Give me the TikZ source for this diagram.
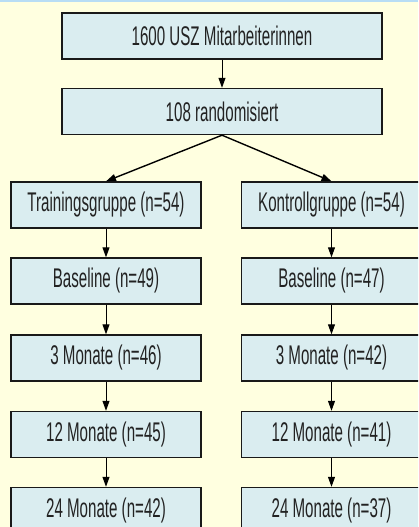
\documentclass[tikz,border=0pt]{standalone}
\usepackage{fontspec}
\newfontfamily\nar[FakeStretch=0.56]{Liberation Sans}
\usetikzlibrary{arrows.meta}
\definecolor{bgy}{HTML}{FFFFE0}
\definecolor{topb}{HTML}{B8DDF5}
\definecolor{boxf}{HTML}{DAEDF0}
\definecolor{txt}{HTML}{222222}
\begin{document}
\begin{tikzpicture}[x=1pt,y=-1pt,
  box/.style={draw=black!90, line width=1.4pt, fill=boxf, minimum height=46pt, inner sep=0pt,
    font=\nar\fontsize{27}{30}\selectfont, text=txt},
  lbox/.style={box, minimum width=190pt},
  rbox/.style={box, minimum width=180pt},
  arr/.style={-{Triangle[length=10pt,width=7pt]}, line width=1pt}]
\useasboundingbox (0,0) rectangle (418,527);
\fill[bgy] (0,0) rectangle (418,527);
\fill[topb] (0,0) rectangle (418,2.5);
\clip (0,0) rectangle (418,527);
\node[box, minimum width=320pt] (a) at (222,36) {1600 USZ Mitarbeiterinnen};
\node[box, minimum width=320pt] (b) at (222,111.5) {108 randomisiert};
\node[lbox] (t0) at (106,205) {Trainingsgruppe (n=54)};
\node[lbox] (t1) at (106,281) {Baseline (n=49)};
\node[lbox] (t2) at (106,358) {3 Monate (n=46)};
\node[lbox] (t3) at (106,434.5) {12 Monate (n=45)};
\node[lbox] (t4) at (106,510.5) {24 Monate (n=42)};
\node[rbox] (k0) at (331.5,205) {Kontrollgruppe (n=54)};
\node[rbox] (k1) at (331.5,281) {Baseline (n=47)};
\node[rbox] (k2) at (331.5,358) {3 Monate (n=42)};
\node[rbox] (k3) at (331.5,434.5) {12 Monate (n=41)};
\node[rbox] (k4) at (331.5,510.5) {24 Monate (n=37)};
\draw[arr] (a) -- (b);
\draw[arr, line width=1.4pt] (b.south) -- (t0.north);
\draw[arr, line width=1.4pt] (b.south) -- (k0.north);
\foreach \p/\q in {t0/t1,t1/t2,t2/t3,t3/t4,k0/k1,k1/k2,k2/k3,k3/k4}
  \draw[arr] (\p) -- (\q);
\end{tikzpicture}
\end{document}
